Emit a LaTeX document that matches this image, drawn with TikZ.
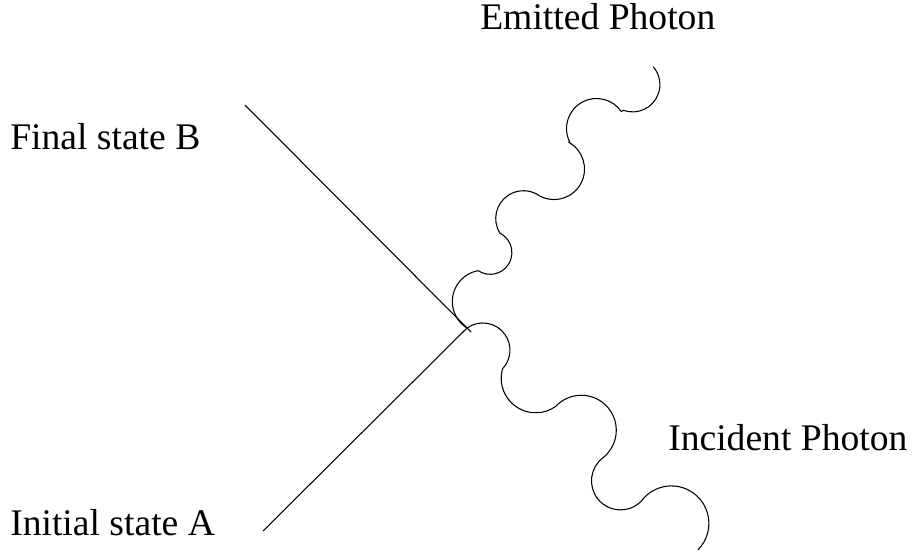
\documentclass[tikz,border=0pt]{standalone}
\usepackage{fontspec}
\setmainfont{Liberation Serif}
\begin{document}
\begin{tikzpicture}[x=0.75pt, y=-0.75pt,
  lbl/.style={font=\fontsize{28.2}{33}\selectfont, anchor=base west, inner sep=0pt},
  fermion/.style={line width=0.8pt},
  photon/.style={line width=0.8pt, line join=round}]
\useasboundingbox (0,0) rectangle (912,554);
% vertex and free ends
\coordinate (v) at (467,328);
\coordinate (bEnd) at (245,105);
\coordinate (aEnd) at (263,531);
% labels
\node[lbl] (lblB) at (10,149) {Final state B};
\node[lbl] (lblA) at (10,535) {Initial state A};
\node[lbl] (lblE) at (480,29) {Emitted Photon};
\node[lbl] (lblI) at (668,450) {Incident Photon};
% fermion lines
\draw[fermion] (bEnd) -- ([shift={(4,4)}]v);
\draw[fermion] (aEnd) -- (v);
% incident photon
\draw[photon] (v)
  arc[start angle=-125.4, end angle=43.4, radius=27.2]
  arc[start angle=195.8, end angle=54.5, radius=34.5]
  arc[start angle=-136.9, end angle=51.7, radius=35]
  arc[start angle=232.9, end angle=35.5, radius=29]
  arc[start angle=-136.7, end angle=44.8, radius=37.5] coordinate (iEnd);
% emitted photon
\draw[photon] (v)
  arc[start angle=122.1, end angle=260.2, radius=31.3]
  -- ([shift={(123.3:21.7)}]490.2,252.6) arc[start angle=123.3, end angle=-63.1, radius=21.7]
  -- ([shift={(147.8:27.8)}]523.5,218.5) arc[start angle=147.8, end angle=307.1, radius=27.8]
  -- ([shift={(116.6:30.5)}]554,169) arc[start angle=116.6, end angle=-61.1, radius=30.5]
  -- ([shift={(152.8:30)}]596.5,128.5) arc[start angle=152.8, end angle=326.1, radius=30]
  -- ([shift={(110:27.3)}]632.6,84.6) arc[start angle=110, end angle=-40.9, radius=27.3] coordinate (eEnd);
\end{tikzpicture}
\end{document}
